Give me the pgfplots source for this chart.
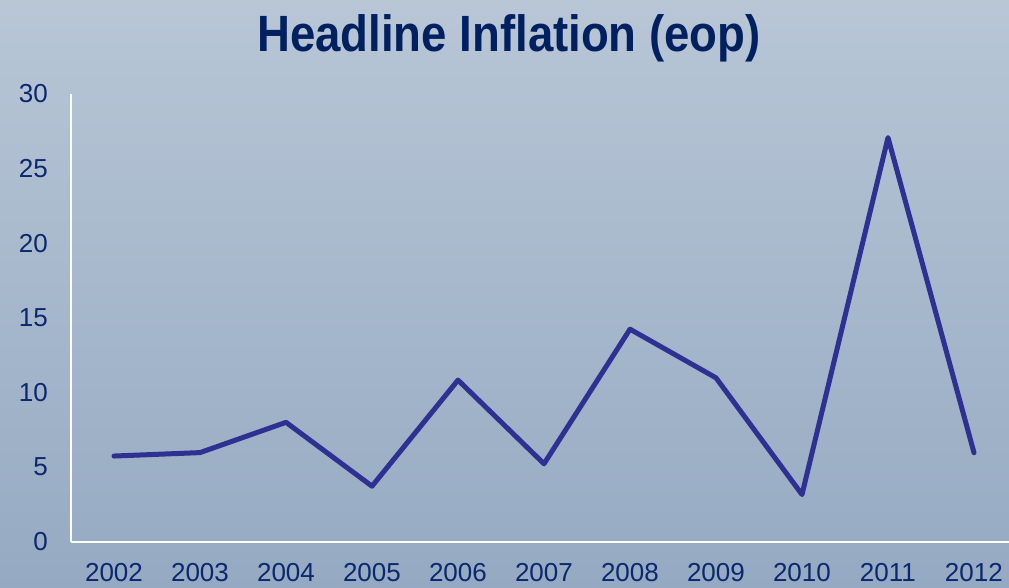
\documentclass[border=0pt]{standalone}
\usepackage{pgfplots}
\pgfplotsset{compat=1.18}
\usepackage{fontspec}
\setmainfont{Liberation Sans}
\definecolor{bgtop}{RGB}{184,198,214}
\definecolor{bgbot}{RGB}{149,170,194}
\definecolor{navy}{RGB}{0,32,96}
\definecolor{ticknavy}{RGB}{10,40,110}
\definecolor{linecol}{RGB}{46,49,146}
\begin{document}
\begin{tikzpicture}[x=1pt,y=1pt]
\path[use as bounding box] (0,0) rectangle (1009,587);
\clip (0,0) rectangle (1009,587);
\shade[top color=bgtop, bottom color=bgbot] (0,0) rectangle (1009,587);
\node[anchor=base, text=navy, font=\fontsize{51}{56}\selectfont\bfseries, inner sep=0, xscale=0.893] at (509,535) {Headline Inflation (eop)};
\begin{axis}[
  at={(71pt,45.3pt)}, anchor=origin,
  scale only axis,
  width=946pt, height=447.7pt,
  xmin=2001.5, xmax=2012.5,
  ymin=0, ymax=30,
  axis x line=bottom, axis y line=left,
  axis line style={white, line width=1.6pt, -},
  xtick={2002,...,2012},
  ytick={0,5,...,30},
  major tick length=0pt,
  /pgf/number format/assume math mode=true,
  xticklabel style={/pgf/number format/1000 sep={}, font=\fontsize{26}{30}\selectfont, text=ticknavy, inner sep=0pt, anchor=north, yshift=-21pt},
  yticklabel style={font=\fontsize{26}{30}\selectfont, text=ticknavy, inner sep=0pt, anchor=east, xshift=-23pt},
  x tick label style={/pgf/number format/1000 sep={}},
  clip=false,
]
\addplot[color=linecol, line width=5pt, line join=round, line cap=round, mark=none] coordinates {
  (2002,5.74) (2003,5.97) (2004,8.0) (2005,3.72) (2006,10.83) (2007,5.22)
  (2008,14.24) (2009,10.98) (2010,3.16) (2011,27.08) (2012,5.96)
};
\end{axis}
\end{tikzpicture}
\end{document}
